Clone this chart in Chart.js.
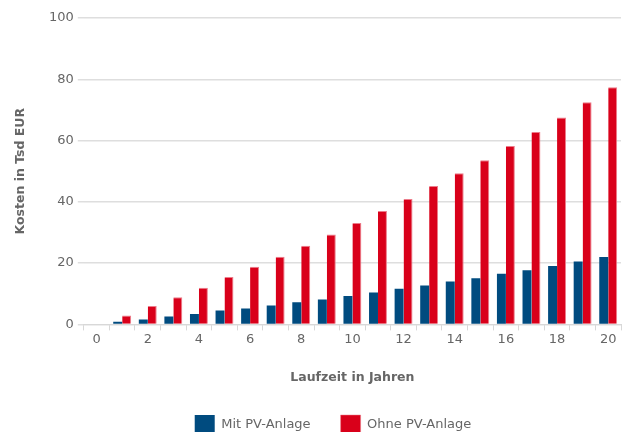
<!DOCTYPE html>
<html>
<head>
<meta charset="utf-8">
<script src="https://cdn.jsdelivr.net/npm/chart.js@4.4.1/dist/chart.umd.min.js"></script>
<style>
  html, body { margin: 0; padding: 0; background: #fff; overflow: hidden; }
  #wrap { width: 625px; height: 432px; overflow: hidden; }
  #inner { width: 625px; height: 447px; position: relative; }
</style>
</head>
<body>
<div id="wrap"><div id="inner"><canvas id="c"></canvas></div></div>
<script>
// Laufzeit (Jahre)
const jahre = [0, 1, 2, 3, 4, 5, 6, 7, 8, 9, 10, 11, 12, 13, 14, 15, 16, 17, 18, 19, 20];
// Kumulierte Kosten in Tsd EUR
const mitPV = [0, 0.9, 1.6, 2.6, 3.4, 4.5, 5.2, 6.2, 7.2, 8.1, 9.3, 10.4, 11.6, 12.7, 14.0, 15.1, 16.5, 17.7, 19.1, 20.5, 22.0];
const ohnePV = [0, 2.9, 6.0, 8.9, 12.0, 15.5, 18.8, 22.1, 25.7, 29.3, 33.1, 37.0, 40.9, 45.2, 49.3, 53.6, 58.2, 62.8, 67.5, 72.5, 77.4];
const yTicks = [0, 20, 40, 60, 80, 100];

const grau = '#666666';
const schrift = 'DejaVu Sans';

// Legende etwas nach rechts versetzen
const legendeVersatz = {
  id: 'legendeVersatz',
  afterLayout(chart) {
    const lg = chart.legend;
    if (lg) { lg.left += 16; lg.right += 16; }
  }
};

new Chart(document.getElementById('c'), {
  type: 'bar',
  data: {
    labels: jahre,
    datasets: [
      {
        label: 'Mit PV-Anlage',
        data: mitPV,
        backgroundColor: '#004b7f',
        borderWidth: 0,
        categoryPercentage: 0.7,
        barPercentage: 1.0
      },
      {
        label: 'Ohne PV-Anlage',
        data: ohnePV,
        backgroundColor: '#d9001a',
        borderColor: '#ec7c8a',
        borderWidth: { top: 1, left: 0, right: 1, bottom: 0 },
        categoryPercentage: 0.7,
        barPercentage: 1.0
      }
    ]
  },
  plugins: [legendeVersatz],
  options: {
    responsive: true,
    maintainAspectRatio: false,
    animation: false,
    layout: { padding: { left: 13, right: 4, top: 18, bottom: 2 } },
    plugins: {
      tooltip: { enabled: false },
      legend: {
        position: 'bottom',
        labels: {
          boxWidth: 20,
          boxHeight: 20,
          padding: 30,
          color: grau,
          font: { family: schrift, size: 13 }
        }
      }
    },
    scales: {
      x: {
        grid: {
          offset: true,
          drawOnChartArea: false,
          drawTicks: true,
          tickLength: 6,
          color: '#d8d8d8'
        },
        border: { display: true, color: '#d8d8d8', width: 1 },
        ticks: {
          autoSkip: false,
          maxRotation: 0,
          color: grau,
          padding: 1,
          font: { family: schrift, size: 13 },
          callback: function (v, i) { return i % 2 === 0 ? jahre[i] : ''; }
        },
        title: {
          display: true,
          text: 'Laufzeit in Jahren',
          color: grau,
          font: { family: schrift, size: 12.5, weight: 'bold' },
          padding: { top: 22, bottom: 0 }
        }
      },
      y: {
        min: 0,
        max: 100,
        afterBuildTicks: function (axis) { axis.ticks = yTicks.map(v => ({ value: v })); },
        grid: {
          color: '#dedede',
          lineWidth: 1.5,
          tickLength: 6
        },
        border: { display: false },
        ticks: {
          color: grau,
          padding: 4,
          font: { family: schrift, size: 13 }
        },
        title: {
          display: true,
          text: 'Kosten in Tsd EUR',
          color: grau,
          font: { family: schrift, size: 12.5, weight: 'bold' },
          padding: { top: 0, bottom: 17 }
        }
      }
    }
  }
});
</script>
</body>
</html>
